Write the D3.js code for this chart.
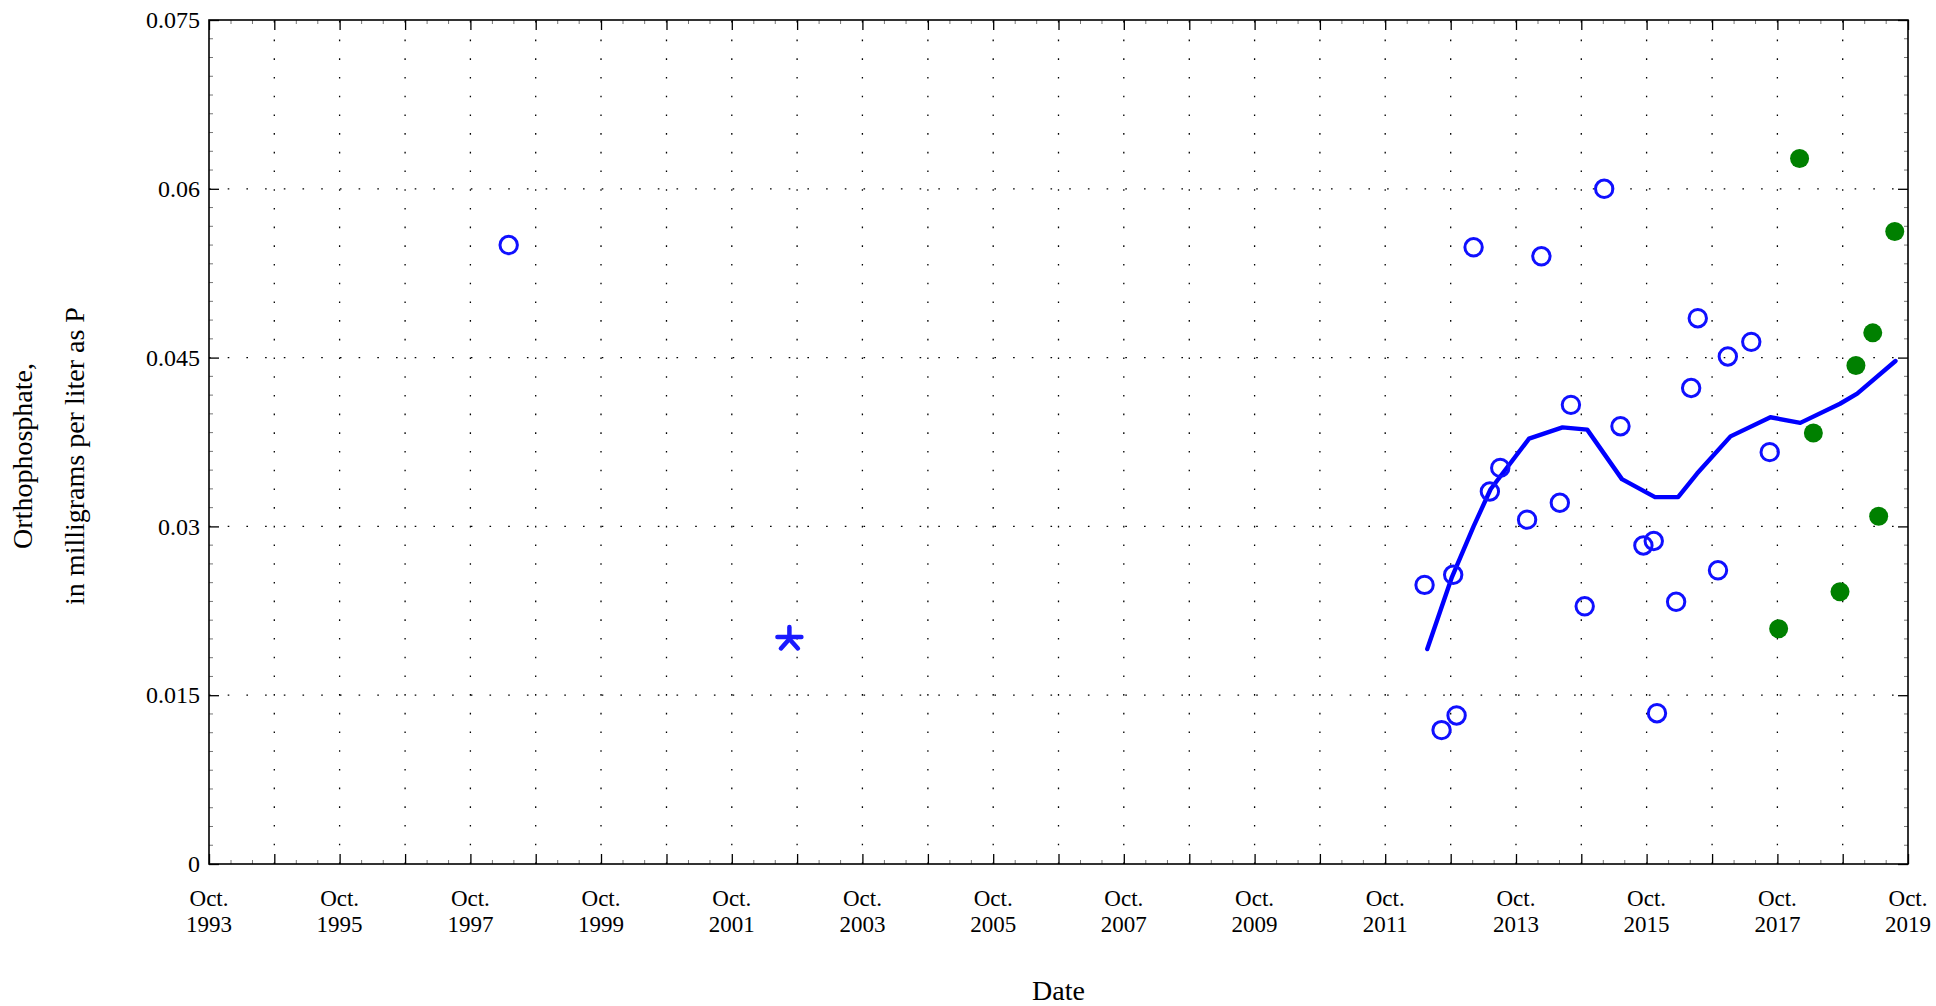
<!DOCTYPE html>
<html>
<head>
<meta charset="utf-8">
<script src="https://cdn.jsdelivr.net/npm/d3@7/dist/d3.min.js"></script>
<style>
  html, body { margin: 0; padding: 0; background: #fff; }
  svg { display: block; }
  svg text { font-family: "Liberation Serif", "Times New Roman", Times, "DejaVu Serif", serif; fill: #000; }
</style>
</head>
<body>
<svg id="chart" width="1936" height="1006"></svg>
<script>
// ---------- data ----------
const openDates = ["1998-05-03","2012-05-08","2012-08-11","2012-10-15","2012-11-03","2013-02-06","2013-05-08",
  "2013-07-05","2013-12-02","2014-02-20","2014-06-03","2014-08-04","2014-10-20","2015-02-06","2015-05-08",
  "2015-09-13","2015-11-10","2015-11-28","2016-03-14","2016-06-06","2016-07-13","2016-11-03","2016-12-28",
  "2017-05-08","2017-08-19"];
const openValues = [0.0550,0.0248,0.0119,0.0257,0.0132,0.0548,0.0331,
  0.0352,0.0306,0.0540,0.0321,0.0408,0.0229,0.0600,0.0389,
  0.0283,0.0287,0.0134,0.0233,0.0423,0.0485,0.0261,0.0451,
  0.0464,0.0366];

const greenDates = ["2017-10-08","2018-02-02","2018-04-20","2018-09-16","2018-12-14","2019-03-18","2019-04-20","2019-07-19"];
const greenValues = [0.0209,0.0627,0.0383,0.0242,0.0443,0.0472,0.0309,0.0562];

const starDates = ["2002-08-19"];
const starValues = [0.0200];

const trendDates = ["2012-05-23","2012-10-08","2013-02-06","2013-05-12","2013-12-13","2014-06-18","2014-11-03",
  "2015-05-16","2015-11-17","2016-03-25","2016-07-09","2017-01-12","2017-08-23","2018-02-06","2018-09-16",
  "2018-12-21","2019-07-23"];
const trendValues = [0.0191,0.0255,0.0300,0.0333,0.0378,0.0388,0.0386,
  0.0342,0.0326,0.0326,0.0347,0.0380,0.0397,0.0392,0.0409,
  0.0418,0.0447];

const yTickValues = [0, 0.015, 0.03, 0.045, 0.06, 0.075];
const yTickLabels = ["0", "0.015", "0.03", "0.045", "0.06", "0.075"];
const xLabelYears = [1993,1995,1997,1999,2001,2003,2005,2007,2009,2011,2013,2015,2017,2019];
const xTickYears = d3.range(1993, 2020);

const yLabelLines = ["Orthophosphate,", "in milligrams per liter as P"];
const xTitle = "Date";

// ---------- layout ----------
const W = 1936, H = 1006;
const L = 209, R = 1908, T = 20, B = 864;
const FONT = '"Liberation Serif", "Times New Roman", Times, "DejaVu Serif", serif';
const parse = d3.timeParse("%Y-%m-%d");
const oct = yr => new Date(yr, 9, 1);

const svg = d3.select("#chart");
const x = d3.scaleTime().domain([oct(1993), oct(2019)]).range([L, R]);
const y = d3.scaleLinear().domain([0, 0.075]).range([B, T]);

// ---------- grid ----------
const grid = svg.append("g");
grid.selectAll("line.v").data(xTickYears.slice(1, -1)).join("line")
  .attr("x1", d => x(oct(d))).attr("x2", d => x(oct(d)))
  .attr("y1", B).attr("y2", T)
  .attr("stroke", "#000").attr("stroke-width", 1.3)
  .attr("stroke-dasharray", "1.6,17.1");
grid.selectAll("line.h").data(yTickValues.slice(1, -1)).join("line")
  .attr("y1", d => y(d)).attr("y2", d => y(d))
  .attr("x1", L).attr("x2", R)
  .attr("stroke", "#000").attr("stroke-width", 1.3)
  .attr("stroke-dasharray", "1.6,17.1");

// ---------- minor ticks ----------
const minor = svg.append("g").attr("stroke", "#777").attr("stroke-width", 1);
const xMinor = [];
xTickYears.slice(0, -1).forEach(yr => { xMinor.push(d3.timeMonth.offset(oct(yr), 4)); xMinor.push(d3.timeMonth.offset(oct(yr), 8)); });
minor.selectAll("line.xb").data(xMinor).join("line")
  .attr("x1", d => x(d)).attr("x2", d => x(d)).attr("y1", B).attr("y2", B - 4);
minor.selectAll("line.xt").data(xMinor).join("line")
  .attr("x1", d => x(d)).attr("x2", d => x(d)).attr("y1", T).attr("y2", T + 4);
const yMinor = [];
for (let i = 0; i < yTickValues.length - 1; i++) {
  for (let k = 1; k < 9; k++) yMinor.push(yTickValues[i] + (yTickValues[i + 1] - yTickValues[i]) * k / 9);
}
minor.selectAll("line.yl").data(yMinor).join("line")
  .attr("y1", d => y(d)).attr("y2", d => y(d)).attr("x1", L).attr("x2", L + 4);
minor.selectAll("line.yr").data(yMinor).join("line")
  .attr("y1", d => y(d)).attr("y2", d => y(d)).attr("x1", R).attr("x2", R - 4);

// ---------- axes ----------
const xAxis = d3.axisBottom(x)
  .tickValues(xTickYears.map(oct))
  .tickSizeInner(-10).tickSizeOuter(0)
  .tickFormat("");
const gx = svg.append("g").attr("transform", `translate(0,${B})`).call(xAxis);
gx.select(".domain").remove();
gx.selectAll(".tick line").attr("stroke", "#000").attr("stroke-width", 1.3);

const xAxisTop = d3.axisTop(x).tickValues(xTickYears.map(oct)).tickSizeInner(-10).tickSizeOuter(0).tickFormat("");
const gxt = svg.append("g").attr("transform", `translate(0,${T})`).call(xAxisTop);
gxt.select(".domain").remove();
gxt.selectAll(".tick line").attr("stroke", "#000").attr("stroke-width", 1.3);

const yAxis = d3.axisLeft(y).tickValues(yTickValues).tickSizeInner(-10).tickSizeOuter(0)
  .tickFormat((d, i) => yTickLabels[i]).tickPadding(9);
const gy = svg.append("g").attr("transform", `translate(${L},0)`).call(yAxis);
gy.attr("font-family", FONT).attr("font-size", 24);
gy.select(".domain").remove();
gy.selectAll(".tick line").attr("stroke", "#000").attr("stroke-width", 1.3);
gy.selectAll(".tick text").attr("font-size", 24).attr("fill", "#000");

const yAxisR = d3.axisRight(y).tickValues(yTickValues).tickSizeInner(-10).tickSizeOuter(0).tickFormat("");
const gyr = svg.append("g").attr("transform", `translate(${R},0)`).call(yAxisR);
gyr.select(".domain").remove();
gyr.selectAll(".tick line").attr("stroke", "#000").attr("stroke-width", 1.3);

// frame
svg.append("rect").attr("x", L).attr("y", T).attr("width", R - L).attr("height", B - T)
  .attr("fill", "none").attr("stroke", "#000").attr("stroke-width", 1.6);

// x tick labels (two lines)
const xl = svg.append("g").attr("font-size", 23).attr("font-family", FONT).attr("text-anchor", "middle");
xl.selectAll("text.oct").data(xLabelYears).join("text")
  .attr("x", d => x(oct(d))).attr("y", 906).text("Oct.");
xl.selectAll("text.yr").data(xLabelYears).join("text")
  .attr("x", d => x(oct(d))).attr("y", 932).text(d => d);

// axis titles
svg.append("text").attr("x", (L + R) / 2).attr("y", 1000).attr("text-anchor", "middle")
  .attr("font-family", FONT).attr("font-size", 28).text(xTitle);
const yl = svg.append("text").attr("transform", "translate(0,456) rotate(-90)")
  .attr("text-anchor", "middle").attr("font-family", FONT).attr("font-size", 28);
yl.append("tspan").attr("x", 0).attr("y", 32).text(yLabelLines[0]);
yl.append("tspan").attr("x", 0).attr("y", 84).text(yLabelLines[1]);

// ---------- marks ----------
const plot = svg.append("g");
const trend = trendDates.map((d, i) => ({ d: parse(d), v: trendValues[i] }));
plot.append("path").datum(trend)
  .attr("d", d3.line().x(p => x(p.d)).y(p => y(p.v)))
  .attr("fill", "none").attr("stroke", "#0000ff").attr("stroke-width", 4.4)
  .attr("stroke-linejoin", "round").attr("stroke-linecap", "round");

plot.selectAll("circle.open").data(openDates.map((d, i) => ({ d: parse(d), v: openValues[i] }))).join("circle")
  .attr("cx", p => x(p.d)).attr("cy", p => y(p.v)).attr("r", 8.7)
  .attr("fill", "none").attr("stroke", "#1010ff").attr("stroke-width", 3);

plot.selectAll("circle.green").data(greenDates.map((d, i) => ({ d: parse(d), v: greenValues[i] }))).join("circle")
  .attr("cx", p => x(p.d)).attr("cy", p => y(p.v)).attr("r", 9.5)
  .attr("fill", "#008000");

const starData = starDates.map((d, i) => ({ d: parse(d), v: starValues[i] }));
const sg = plot.selectAll("g.star").data(starData).join("g")
  .attr("transform", p => `translate(${x(p.d)},${y(p.v)})`)
  .attr("stroke", "#1a1aff").attr("stroke-width", 4.5).attr("stroke-linecap", "round");
const s = 12, s2 = 8.5;
sg.append("line").attr("x1", -s).attr("x2", s).attr("y1", -2).attr("y2", -2);
sg.append("line").attr("x1", 0).attr("x2", 0).attr("y1", -s).attr("y2", 0);
sg.append("line").attr("x1", 0).attr("x2", -s2).attr("y1", 0).attr("y2", s2 + 1);
sg.append("line").attr("x1", 0).attr("x2", s2).attr("y1", 0).attr("y2", s2 + 1);
</script>
</body>
</html>
